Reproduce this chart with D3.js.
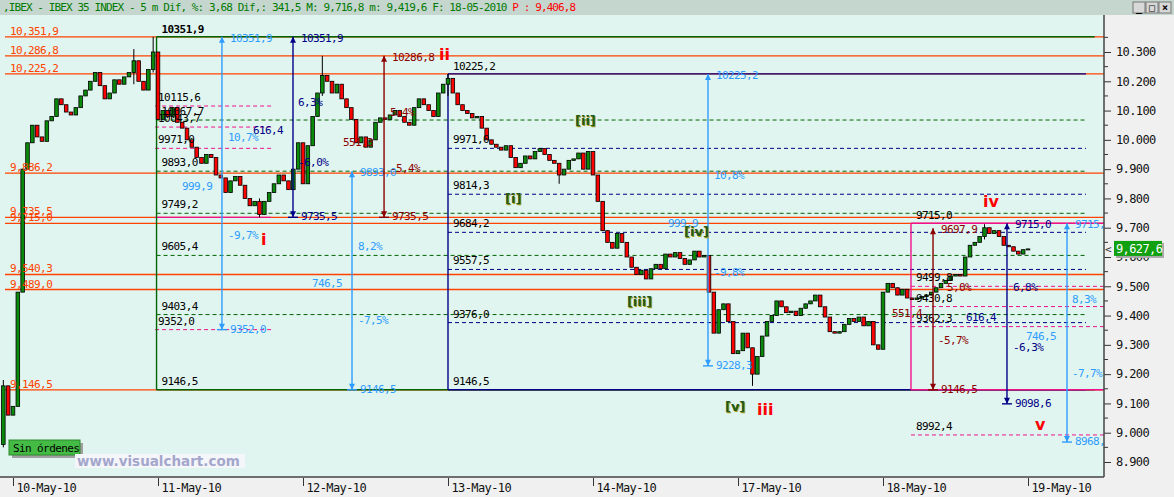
<!DOCTYPE html>
<html>
<head>
<meta charset="utf-8">
<script src="https://cdn.jsdelivr.net/npm/d3@7"></script>
<style>
body{margin:0;background:#f0f0f0;overflow:hidden}
text{font-family:"DejaVu Sans Mono",monospace}
.lbl{font-size:11px;letter-spacing:-0.6px}
</style>
</head>
<body>
<script>
(function(){
    //categories and tick labels
    var dayLabels = ["10-May-10","11-May-10","12-May-10","13-May-10","14-May-10","17-May-10","18-May-10","19-May-10"];
    var priceTicks = [8900,9000,9100,9200,9300,9400,9500,9600,9700,9800,9900,10000,10100,10200,10300];
    var priceTickLabels = ["8.900","9.000","9.100","9.200","9.300","9.400","9.500","9.600","9.700","9.800","9.900","10.000","10.100","10.200","10.300"];

    //5 minute closes (30 bars per day, first bar is -2)
    var barsPerDay = 30, firstBar = -2, firstOpen = 8960;
    var closes = [9160,9060,9090,9480,9900,9990,10050,10010,9995,10065,
        10080,10140,10120,10095,10085,10110,10150,10170,10200,10230,
        10185,10140,10160,10205,10190,10215,10230,10270,10200,10170,
        10240,10300,
        10070,10100,10080,10110,10060,10040,10000,9975,9940,9920,
        9950,9940,9880,9870,9820,9860,9875,9845,9800,9775,
        9790,9745,9790,9820,9850,9880,9860,9830,9900,9990,
        9850,9980,10080,10160,10220,10200,10160,10190,10140,10110,
        10070,9990,10010,9975,10000,10060,10075,10070,10085,10100,
        10080,10060,10050,10110,10140,10120,10100,10080,10160,10190,
        10210,10160,10120,10100,10090,10075,10080,10040,10000,9985,
        9975,9965,9980,9940,9905,9920,9945,9935,9960,9970,
        9950,9930,9920,9880,9900,9930,9935,9955,9900,9960,
        9880,9790,9690,9650,9630,9680,9650,9600,9565,9540,
        9555,9525,9560,9575,9560,9610,9600,9615,9595,9575,
        9590,9620,9600,9605,9480,9340,9420,9440,9380,9270,
        9280,9340,9290,9200,9260,9330,9380,9400,9450,9430,
        9410,9415,9400,9425,9440,9450,9470,9430,9395,9345,
        9340,9345,9370,9390,9380,9395,9365,9380,9300,9285,
        9480,9510,9495,9470,9490,9460,9455,9460,9465,9470,
        9480,9495,9510,9520,9535,9540,9535,9600,9640,9650,
        9670,9700,9680,9690,9670,9640,9635,9620,9610,9625,
        9627.6];
    //notable wicks [bar, high, low]
    var wicks = [[-2,9180,8950],[25,10310,10190],[29,10351.9,10230],[51,9800,9735.5],
        [64,10286.8,10150],[90,10225.2,10150],[113,9920,9850],[153,9290,9160],[201,9712,9660]];

    //orange support / resistance levels
    var levels = [10351.9,10286.8,10225.2,9886.2,9735.5,9715.0,9540.3,9489.0,9146.5];
    var levelLabels = ["10,351,9","10,286,8","10,225,2","9,886,2","9,735,5","9,715,0","9,540,3","9,489,0","9,146,5"];

    //fibonacci boxes [startDay, endDay, top, bottom, colour]
    var boxes = [[0.99,7.46,10351.9,9146.5,"green"],[3.0,7.40,10225.2,9146.5,"navy"],[6.193,7.6,9715.0,9146.5,"pink"]];
    var boxTopLabels = ["10351,9","10225,2","9715,0"];
    var boxBottomLabels = ["9146,5","9146,5",""];

    //dashed retracement levels [startDay, endDay, price, label, colour]
    var fibLevels = [
        [0.99,7.40,10067.7,"10067,7","green"],[0.99,7.40,9893.0,"9893,0","green"],
        [0.99,7.40,9749.2,"9749,2","green"],[0.99,7.40,9605.4,"9605,4","green"],
        [0.99,7.40,9403.4,"9403,4","green"],
        [0.98,1.78,10115.6,"10115,6","pink"],[0.98,1.78,10043.7,"10043,7","pink"],
        [0.98,1.78,9971.0,"9971,0","pink"],[0.98,1.78,9352.0,"9352,0","pink"],
        [3.0,7.40,9971.0,"9971,0","navy"],[3.0,7.40,9814.3,"9814,3","navy"],
        [3.0,7.40,9684.2,"9684,2","navy"],[3.0,7.40,9557.5,"9557,5","navy"],
        [3.0,7.40,9376.0,"9376,0","navy"],
        [6.193,7.6,9499.8,"9499,8","pink"],[6.193,7.6,9430.8,"9430,8","pink"],
        [6.193,7.6,9362.3,"9362,3","pink"],[6.193,7.6,8992.4,"8992,4","pink"]];

    //projection arrows [day, from, to, colour, top label, bottom label]
    var arrows = [
        [1.441,10351.9,9352.0,"blue","10351,9","9352,0"],
        [1.931,10351.9,9735.5,"navy","10351,9","9735,5"],
        [2.338,9893.0,9146.5,"blue","9893,0","9146,5"],
        [2.559,10286.8,9735.5,"dred","10286,8","9735,5"],
        [4.793,10225.2,9228.3,"blue","10225,2","9228,3"],
        [6.345,9697.9,9146.5,"dred","9697,9","9146,5"],
        [6.855,9715.0,9098.6,"navy","9715,0","9098,6"],
        [7.269,9715.0,8968.1,"blue","9715,0","8968,1"]];

    //free notes [day, price, text, colour]
    var notes = [
        [1.655,10020,"616,4","navy"],[1.483,9996,"10,7%","blue"],[1.166,9829,"999,9","blue"],
        [1.483,9661,"-9,7%","blue"],[1.966,10116,"6,3%","navy"],[1.966,9911,"-6,0%","navy"],
        [2.276,9979,"551,3","dred"],[2.6,10081,"5,4%","dred"],[2.6,9890,"-5,4%","dred"],
        [2.379,9624,"8,2%","blue"],[2.062,9498,"746,5","blue"],[2.379,9371,"-7,5%","blue"],
        [4.834,9866,"10,8%","blue"],[4.517,9702,"999,9","blue"],[4.834,9535,"-9,8%","blue"],
        [6.441,9484,"5,0%","dred"],[6.379,9303,"-5,7%","dred"],[6.062,9395,"551,4","dred"],
        [6.572,9381,"616,4","navy"],[6.897,9484,"6,8%","navy"],[6.897,9279,"-6,3%","navy"],
        [6.986,9317,"746,5","blue"],[7.303,9443,"8,3%","blue"],[7.303,9190,"-7,7%","blue"]];

    //elliott wave counts
    var waveMinor = [[3.393,9784,"[i]"],[3.876,10051,"[ii]"],[4.234,9433,"[iii]"],[4.628,9672,"[iv]"],[4.910,9074,"[v]"]];
    var waveMajor = [[1.710,9641,"i"],[2.938,10273,"ii"],[5.131,9061,"iii"],[6.690,9771,"iv"],[7.048,9009,"v"]];

    var lastPrice = 9627.6, lastPriceLabel = "9,627,6";
    var headerText = ",IBEX - IBEX 35 INDEX -  5 m Dif, %: 3,68 Dif,: 341,5 M: 9,716,8 m: 9,419,6 F: 18-05-2010 ";
    var headerRed = "P : 9,406,8";

    var colors = {green:"#006400", navy:"#000088", pink:"#f0128c", blue:"#2e9cff", dred:"#8b0000", orange:"#ff4200"};

    var width = 1174, height = 497,
        plotLeft = 0, plotRight = 1104, plotTop = 15, plotBottom = 477;

    var svg = d3.select("body").append("svg")
        .attr("width", width)
        .attr("height", height);

    svg.append("rect").attr("width", width).attr("height", height).attr("fill", "#f0f0f0");
    svg.append("rect").attr("x", plotLeft).attr("y", plotTop)
        .attr("width", plotRight - plotLeft).attr("height", plotBottom - plotTop)
        .attr("fill", "#e0f5ef");

    svg.append("clipPath").attr("id", "plotClip").append("rect")
        .attr("x", plotLeft).attr("y", plotTop)
        .attr("width", plotRight - plotLeft).attr("height", plotBottom - plotTop);

    var x = d3.scaleLinear().domain([0, 7]).range([13, 1028]);
    var y = d3.scaleLinear().domain([8900, 10300]).range([462, 52]);

    var plot = svg.append("g").attr("clip-path", "url(#plotClip)");

    //orange levels
    plot.selectAll(".level").data(levels).enter().append("line")
        .attr("x1", 5).attr("x2", plotRight)
        .attr("y1", function(d){ return y(d); }).attr("y2", function(d){ return y(d); })
        .attr("stroke", colors.orange).attr("stroke-width", 1.3);

    //dashed fib levels
    plot.selectAll(".fib").data(fibLevels).enter().append("line")
        .attr("x1", function(d){ return x(d[0]); }).attr("x2", function(d){ return x(d[1]); })
        .attr("y1", function(d){ return y(d[2]); }).attr("y2", function(d){ return y(d[2]); })
        .attr("stroke", function(d){ return colors[d[4]]; })
        .attr("stroke-dasharray", "4,3");

    //pink low line of wave i
    plot.append("line")
        .attr("x1", x(0.98)).attr("x2", x(1.78))
        .attr("y1", y(9735.5)).attr("y2", y(9735.5))
        .attr("stroke", colors.pink).attr("stroke-width", 1.3);

    //boxes: top, bottom, left edge
    boxes.forEach(function(b){
        var g = plot.append("g").attr("stroke", colors[b[4]]).attr("stroke-width", 1.4);
        g.append("line").attr("x1", x(b[0])).attr("x2", x(b[1])).attr("y1", y(b[2])).attr("y2", y(b[2]));
        g.append("line").attr("x1", x(b[0])).attr("x2", x(b[1])).attr("y1", y(b[3])).attr("y2", y(b[3]));
        g.append("line").attr("x1", x(b[0])).attr("x2", x(b[0])).attr("y1", y(b[2])).attr("y2", y(b[3]));
    });

    //candles
    var bars = closes.map(function(c, i){
        var o = i > 0 ? closes[i - 1] : firstOpen;
        var k = firstBar + i;
        var hi = Math.max(o, c), lo = Math.min(o, c);
        wicks.forEach(function(w){ if (w[0] === k){ hi = Math.max(hi, w[1]); lo = Math.min(lo, w[2]); } });
        return {t: k / barsPerDay, o: o, c: c, hi: hi, lo: lo};
    });
    var candle = plot.selectAll(".candle").data(bars).enter().append("g");
    candle.append("line")
        .attr("x1", function(d){ return x(d.t); }).attr("x2", function(d){ return x(d.t); })
        .attr("y1", function(d){ return y(d.hi); }).attr("y2", function(d){ return y(d.lo); })
        .attr("stroke", "#000");
    candle.append("rect")
        .attr("x", function(d){ return x(d.t) - 1.8; })
        .attr("width", 3.6)
        .attr("y", function(d){ return y(Math.max(d.o, d.c)); })
        .attr("height", function(d){ return Math.max(1, Math.abs(y(d.o) - y(d.c))); })
        .attr("fill", function(d){ return d.c >= d.o ? "#0a8a0a" : "#ff0000"; })
        .attr("stroke", "#000").attr("stroke-width", 0.8);

    //level labels
    plot.selectAll(".levelLbl").data(levels).enter().append("text")
        .attr("class", "lbl")
        .attr("x", 10).attr("y", function(d){ return y(d) - 2; })
        .attr("fill", colors.orange)
        .text(function(d, i){ return levelLabels[i]; });

    plot.selectAll(".fibLbl").data(fibLevels).enter().append("text")
        .attr("class", "lbl")
        .attr("x", function(d){ return x(d[0]) + (d[4] === "pink" && d[0] < 1 ? 3 : 5); })
        .attr("y", function(d){ return y(d[2]) - 5; })
        .attr("fill", "#000")
        .text(function(d){ return d[3]; });

    boxes.forEach(function(b, i){
        plot.append("text").attr("class", "lbl")
            .attr("x", x(b[0]) + 5).attr("y", y(b[2]) - 4)
            .attr("fill", "#000")
            .style("font-weight", i === 0 ? "bold" : null)
            .text(boxTopLabels[i]);
        if (boxBottomLabels[i]) {
            plot.append("text").attr("class", "lbl")
                .attr("x", x(b[0]) + 5).attr("y", y(b[3]) - 5)
                .attr("fill", "#000")
                .text(boxBottomLabels[i]);
        }
    });

    //arrows
    arrows.forEach(function(a){
        var xx = x(a[0]), y1 = y(a[1]), y2 = y(a[2]), col = colors[a[3]];
        var g = plot.append("g");
        g.append("line").attr("x1", xx).attr("x2", xx).attr("y1", y1).attr("y2", y2)
            .attr("stroke", col).attr("stroke-width", 1.4);
        g.append("line").attr("x1", xx - 5).attr("x2", xx + 5).attr("y1", y2).attr("y2", y2)
            .attr("stroke", col).attr("stroke-width", 1.4);
        g.append("path").attr("d", "M" + (xx - 3) + "," + (y1 + 6) + "L" + xx + "," + y1 + "L" + (xx + 3) + "," + (y1 + 6) + "Z")
            .attr("fill", col);
        g.append("path").attr("d", "M" + (xx - 3) + "," + (y2 - 6) + "L" + xx + "," + y2 + "L" + (xx + 3) + "," + (y2 - 6) + "Z")
            .attr("fill", col);
        g.append("text").attr("class", "lbl").attr("x", xx + 8).attr("y", y1 + 5)
            .attr("fill", col).text(a[4]);
        g.append("text").attr("class", "lbl").attr("x", xx + 8).attr("y", y2 + 3)
            .attr("fill", col).text(a[5]);
    });

    //notes
    plot.selectAll(".note").data(notes).enter().append("text")
        .attr("class", "lbl")
        .attr("x", function(d){ return x(d[0]); })
        .attr("y", function(d){ return y(d[1]); })
        .attr("fill", function(d){ return colors[d[3]]; })
        .text(function(d){ return d[2]; });

    //wave labels
    waveMinor.forEach(function(w){
        plot.append("text").attr("x", x(w[0]) + 1).attr("y", y(w[1]) + 1)
            .style("font-family", "DejaVu Sans").style("font-size", "13px").style("font-weight", "bold")
            .attr("fill", "#b0a020").text(w[2]);
        plot.append("text").attr("x", x(w[0])).attr("y", y(w[1]))
            .style("font-family", "DejaVu Sans").style("font-size", "13px").style("font-weight", "bold")
            .attr("fill", "#235a1c").text(w[2]);
    });
    waveMajor.forEach(function(w){
        plot.append("text").attr("x", x(w[0])).attr("y", y(w[1]))
            .style("font-family", "DejaVu Sans").style("font-size", "16px").style("font-weight", "bold")
            .attr("fill", "#ff0000").text(w[2]);
    });

    //sin ordenes button and watermark
    svg.append("rect").attr("x", 12).attr("y", 443).attr("width", 71).attr("height", 15).attr("fill", "#a0a0a0");
    svg.append("rect").attr("x", 9).attr("y", 440).attr("width", 71).attr("height", 15)
        .attr("fill", "#44bb44").attr("stroke", "#2a8a2a");
    svg.append("text").attr("class", "lbl").attr("x", 13).attr("y", 452).attr("fill", "#000").text("Sin órdenes");
    svg.append("rect").attr("x", 75).attr("y", 454).attr("width", 170).attr("height", 14).attr("fill", "#f4f6fa");
    svg.append("text").attr("x", 77).attr("y", 466)
        .style("font-family", "DejaVu Sans").style("font-size", "13.5px").style("font-weight", "bold")
        .attr("fill", "#a4a6cc").text("www.visualchart.com");

    //right price axis
    var yAxis = d3.axisRight(y).tickValues(priceTicks).tickSize(7).tickPadding(5)
        .tickFormat(function(d, i){ return priceTickLabels[i]; });
    var ya = svg.append("g").attr("transform", "translate(" + plotRight + ",0)").call(yAxis);
    ya.select(".domain").remove();
    ya.selectAll("line").attr("stroke", "#333");
    ya.selectAll("text").attr("class", "lbl").style("font-size", "12px").attr("fill", "#111");
    var minorTicks = priceTicks.map(function(d){ return d + 50; });
    svg.append("g").attr("transform", "translate(" + plotRight + ",0)")
        .selectAll("line").data(minorTicks).enter().append("line")
        .attr("x1", 0).attr("x2", 4)
        .attr("y1", function(d){ return y(d); }).attr("y2", function(d){ return y(d); })
        .attr("stroke", "#333");
    svg.append("line").attr("x1", plotRight).attr("x2", plotRight).attr("y1", plotTop).attr("y2", plotBottom)
        .attr("stroke", "#444").attr("stroke-width", 1.5);

    //bottom date axis
    var xAxis = d3.axisBottom(x).tickValues(d3.range(dayLabels.length)).tickSize(8)
        .tickFormat(function(d){ return dayLabels[d]; });
    var xa = svg.append("g").attr("transform", "translate(0," + (plotBottom + 1) + ")").call(xAxis);
    xa.select(".domain").remove();
    xa.selectAll("line").attr("stroke", "#333");
    xa.selectAll("text").attr("class", "lbl").style("font-size", "12px")
        .attr("text-anchor", "start").attr("x", 3).attr("y", 5).attr("fill", "#111");
    svg.append("line").attr("x1", 0).attr("x2", plotRight).attr("y1", plotBottom).attr("y2", plotBottom)
        .attr("stroke", "#444").attr("stroke-width", 1.5);

    //last price flag
    var yp = y(lastPrice);
    svg.append("text").attr("class", "lbl").attr("x", 1105).attr("y", yp + 4).attr("fill", "#333").text("<");
    svg.append("rect").attr("x", 1116).attr("y", yp - 6).attr("width", 48).attr("height", 15).attr("fill", "#a8a8a8");
    svg.append("rect").attr("x", 1114).attr("y", yp - 8).attr("width", 48).attr("height", 15).attr("fill", "#10a010");
    svg.append("text").attr("class", "lbl").style("font-size", "12px").attr("x", 1116).attr("y", yp + 4)
        .attr("fill", "#fff").text(lastPriceLabel);

    //header bar
    svg.append("rect").attr("width", width).attr("height", plotTop).attr("fill", "#c5d6cf");
    var ht = svg.append("text").attr("class", "lbl").attr("x", 3).attr("y", 11)
        .style("letter-spacing", "-0.9px").attr("fill", "#007a00");
    ht.append("tspan").text(headerText);
    ht.append("tspan").attr("fill", "#ff0000").text(headerRed);

    //window buttons
    ["_", "□", "×"].forEach(function(s, i){
        svg.append("rect").attr("x", 1133 + i * 13).attr("y", 2).attr("width", 12).attr("height", 11)
            .attr("fill", "#d8d8d8").attr("stroke", "#777");
        svg.append("text").attr("x", 1136 + i * 13).attr("y", 11)
            .style("font-size", "10px").style("font-weight", "bold").attr("fill", "#000").text(s);
    });
})();
</script>
</body>
</html>
